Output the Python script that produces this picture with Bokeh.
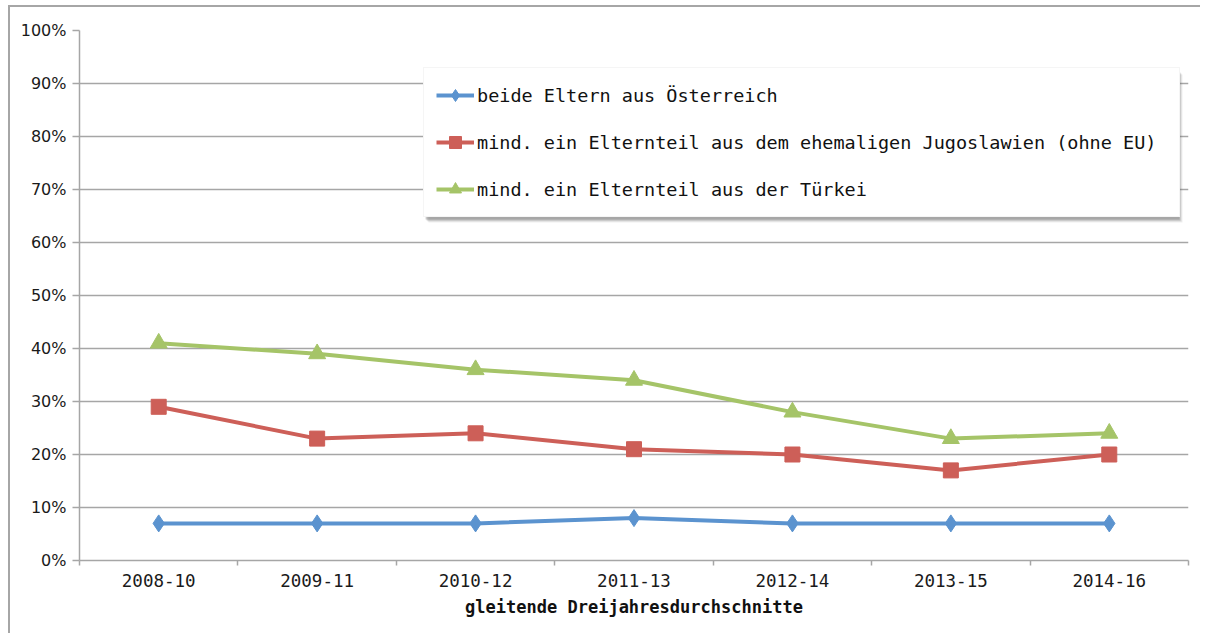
from bokeh.plotting import figure
from bokeh.models import FixedTicker, Legend, LegendItem, PrintfTickFormatter, Range1d, BoxAnnotation
from bokeh.embed import file_html
from bokeh.resources import INLINE

# ---- data ----
categories = ["2008-10", "2009-11", "2010-12", "2011-13", "2012-14", "2013-15", "2014-16"]
austria = [7, 7, 7, 8, 7, 7, 7]
yugoslavia = [29, 23, 24, 21, 20, 17, 20]
turkey = [41, 39, 36, 34, 28, 23, 24]
series_labels = [
    "beide Eltern aus Österreich",
    "mind. ein Elternteil aus dem ehemaligen Jugoslawien (ohne EU)",
    "mind. ein Elternteil aus der Türkei",
]
y_ticks = [0, 10, 20, 30, 40, 50, 60, 70, 80, 90, 100]
x_title = "gleitende Dreijahresdurchschnitte"

# category centres on a numeric axis (so that ticks can sit between categories)
xs = [i + 0.5 for i in range(len(categories))]
boundaries = list(range(len(categories) + 1))

GRAY = "#a6a6a6"
MONO = "DejaVu Sans Mono"

p = figure(width=1192, height=628, output_backend="svg", toolbar_location=None,
           x_range=Range1d(0, len(categories)), y_range=Range1d(0, 100),
           min_border_left=69, min_border_right=14, min_border_top=23, min_border_bottom=75)
p.outline_line_color = None
p.background_fill_color = "white"
p.border_fill_color = "white"
p.border_fill_alpha = 1
p.styles = {"border-left": "2px solid #a6a6a6", "border-top": "2px solid #a6a6a6",
            "margin-left": "8px", "margin-top": "5px"}

# grid
p.xgrid.visible = False
p.ygrid.ticker = FixedTicker(ticks=y_ticks)
p.ygrid.grid_line_color = GRAY
p.ygrid.grid_line_width = 1.5

# y axis
ya = p.yaxis[0]
ya.ticker = FixedTicker(ticks=y_ticks)
ya.formatter = PrintfTickFormatter(format="%d%%")
ya.axis_line_color = GRAY
ya.axis_line_width = 1.5
ya.major_tick_line_color = GRAY
ya.major_tick_line_width = 1.5
ya.major_tick_out = 7
ya.major_tick_in = 0
ya.minor_tick_line_color = None
ya.major_label_standoff = 6
ya.major_label_text_font = "DejaVu Sans"
ya.major_label_text_font_size = "16px"
ya.major_label_text_color = "#1a1a1a"

# x axis
xa = p.xaxis[0]
xa.ticker = FixedTicker(ticks=xs, minor_ticks=boundaries)
xa.major_label_overrides = {x: c for x, c in zip(xs, categories)}
xa.axis_line_color = GRAY
xa.axis_line_width = 1.5
xa.major_tick_line_color = None
xa.major_tick_out = 0
xa.major_tick_in = 0
xa.minor_tick_line_color = GRAY
xa.minor_tick_line_width = 1.5
xa.minor_tick_out = 5
xa.minor_tick_in = 0
xa.major_label_standoff = 8
xa.major_label_text_font = MONO
xa.major_label_text_font_size = "17.5px"
xa.major_label_text_color = "#1a1a1a"
xa.axis_label = x_title
xa.axis_label_text_font = MONO
xa.axis_label_text_font_style = "bold"
xa.axis_label_text_font_size = "17px"
xa.axis_label_text_color = "#111111"
xa.axis_label_standoff = 7

# series
specs = [
    (austria, "#5b93cf", "diamond", 17),
    (yugoslavia, "#cd5f58", "square", 15),
    (turkey, "#a5c468", "triangle", 17),
]
items = []
for (vals, color, marker, size), label in zip(specs, series_labels):
    ln = p.line(xs, vals, line_color=color, line_width=4)
    sc = p.scatter(xs, vals, marker=marker, size=size, fill_color=color, line_color=color)
    items.append(LegendItem(label=label, renderers=[ln, sc]))

# legend box placement (screen px from frame's bottom-left) and its drop shadow
LEG_X, LEG_Y, LEG_W, LEG_H = 344, 343, 754, 148
for off, alpha in [(5, 0.10), (4, 0.15), (3, 0.22), (2, 0.25)]:
    p.add_layout(BoxAnnotation(left=LEG_X + off, right=LEG_X + LEG_W + off,
                               bottom=LEG_Y - off, top=LEG_Y + LEG_H - off,
                               left_units="screen", right_units="screen",
                               top_units="screen", bottom_units="screen",
                               fill_color="#606060", fill_alpha=alpha, line_color=None,
                               editable=False))

legend = Legend(items=items, location=(LEG_X, LEG_Y))
legend.label_text_font = MONO
legend.label_text_font_size = "18.5px"
legend.label_text_color = "#111111"
legend.glyph_width = 38
legend.glyph_height = 30
legend.label_height = 30
legend.label_width = 690
legend.label_standoff = 3
legend.spacing = 17
legend.padding = 12
legend.margin = 0
legend.background_fill_color = "white"
legend.background_fill_alpha = 1
legend.border_line_color = "#ececec"
legend.border_line_width = 1
p.add_layout(legend)

open("out.html", "w").write(file_html(p, INLINE))
